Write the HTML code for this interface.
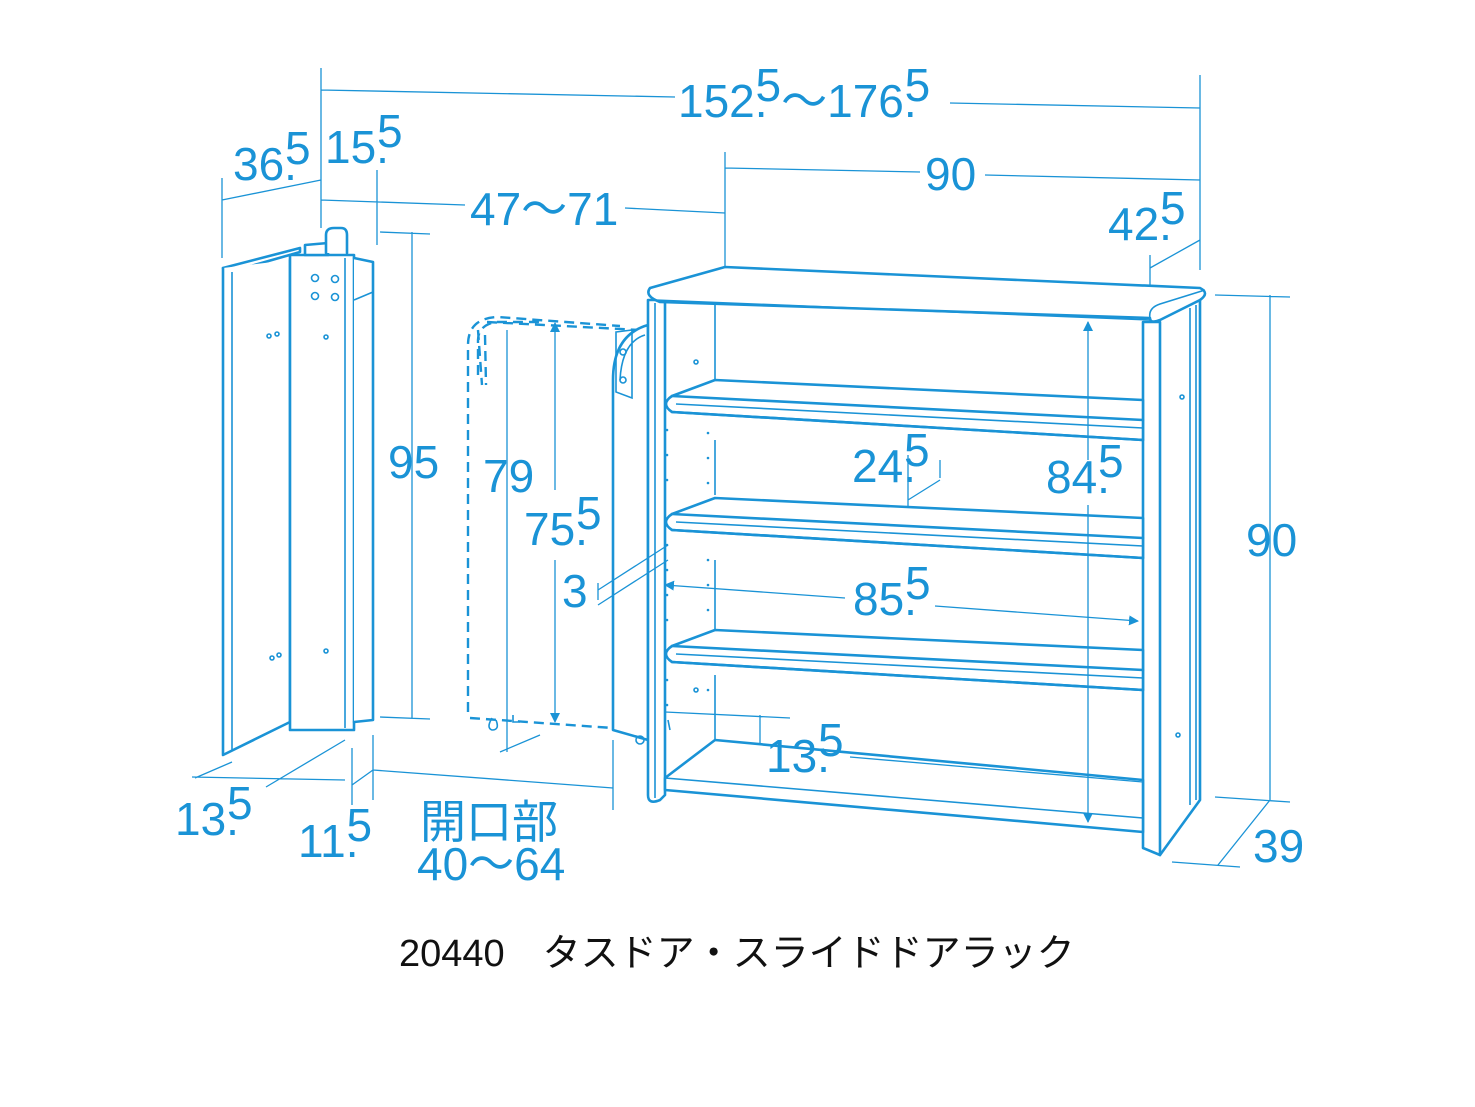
<!DOCTYPE html>
<html><head><meta charset="utf-8"><style>
html,body{margin:0;padding:0;background:#fff;width:1475px;height:1107px;overflow:hidden}
svg{display:block}
.d{stroke:#1a93d6;stroke-width:1.3;fill:none}
.s{stroke:#1a93d6;stroke-width:2.6;fill:#fff;stroke-linejoin:round;stroke-linecap:round}
.t{stroke:#1a93d6;stroke-width:1.6;fill:none}
.dash{stroke:#1a93d6;stroke-width:2.4;fill:none;stroke-dasharray:10 6}
text.n{font-family:"Liberation Sans","Noto Sans CJK JP",sans-serif;font-size:46px;fill:#1a93d6}
</style></head><body>
<svg width="1475" height="1107" viewBox="0 0 1475 1107">
<defs><marker id="a" markerWidth="10" markerHeight="10" refX="9" refY="5" orient="auto" markerUnits="userSpaceOnUse"><path d="M0,0 L10,5 L0,10 z" fill="#1a93d6"/></marker>
<g id="sh">
<path class="s" d="M715,380L1143,400V440L672,412Q660,404 672,396L715,380Z"/>
<path class="s" d="M672,396L1143,420 M672,412L1143,440"/>
<path class="t" d="M676,404L1143,428"/>
</g></defs>
<!-- dimension lines -->
<path class="d" d="M321,68V228 M1200,75V270 M321,90L675,97 M950,103L1200,108 M725,152V270 M725,168L920,172 M985,175L1200,180 M321,200L465,205 M625,208L725,213 M377,170V245 M222,178V258 M222,200L321,180 M1150,255V320 M1150,268L1200,240 M380,232L430,234 M380,717L430,719 M412,232V718 M1215,295L1290,297 M1215,797L1290,802 M1270,295V800 M1218,865L1270,800 M1172,862L1240,867 M195,778L232,762 M192,777L345,780 M266,787L345,740 M352,748V805 M373,735V800 M352,785L373,770 M373,770L613,788 M613,740V810 M500,752L540,735 M507,330V752 M908,455V525 M908,500L940,480 M940,460V478 M665,712L790,718 M760,715V790"/>
<!-- left unit -->
<path class="s" d="M223,268L300,248L300,252L230,272Z"/>
<path class="s" d="M223,268L223,755L290,722L290,260"/>
<path class="t" d="M232,272V750"/>
<rect class="s" x="290" y="255" width="64" height="475"/>
<path class="t" d="M345,258V728"/>
<path class="s" d="M354,258L373,262V720L354,722"/>
<path class="t" d="M354,300L373,292"/>
<path class="s" d="M305,255V245L328,243V255Z"/>
<path class="s" d="M326,253V235Q326,228 334,228H341Q347,228 347,235V253"/>
<g class="t"><circle cx="315" cy="278" r="3.5"/><circle cx="335" cy="279" r="3.5"/><circle cx="315" cy="296" r="3.5"/><circle cx="335" cy="297" r="3.5"/><circle cx="326" cy="337" r="2"/><circle cx="326" cy="651" r="2"/><circle cx="269" cy="336" r="2"/><circle cx="277" cy="334" r="2"/><circle cx="272" cy="658" r="2"/><circle cx="279" cy="655" r="2"/></g>
<!-- dashed door -->
<path class="dash" d="M468,712V345Q468,318 498,317L620,326 M478,375V340Q478,326 495,322L540,322 M478,330L482,385 M485,335L486,385 M470,718L613,728 M487,322L640,330"/>
<path class="t" d="M492,718Q486,728 492,730Q500,730 496,720 M513,715V722L520,722"/>
<!-- solid door -->
<path class="s" d="M613,380Q613,335 648,325V740L613,730Z"/>
<path class="t" d="M620,380Q622,342 645,335 M616,332L632,330V398L616,392Z"/>
<g class="t"><circle cx="623" cy="352" r="3"/><circle cx="623" cy="380" r="3"/><circle cx="640" cy="740" r="4"/></g>
<!-- shelf body -->
<path class="s" d="M1155,322L1200,300V800L1160,855"/>
<path class="t" d="M1190,308V805 M1196,305V800"/>
<path class="s" d="M648,300V795Q648,805 660,800L665,795V300Z"/>
<path class="t" d="M655,303V798"/>
<path class="s" d="M1143,322V848L1160,855V322Z"/>
<path class="t" d="M715,305V380 M715,440V495 M715,560V630 M715,675V740 M668,720L670,730"/>
<!-- top board -->
<path class="s" d="M650,288L725,267L1200,288Q1210,293 1200,300L1160,320Q1150,324 1150,318L660,302Q644,296 650,288Z"/>
<path class="t" d="M655,300L1150,320 M1150,318Q1148,308 1160,304L1205,290"/>
<!-- shelves -->
<use href="#sh"/>
<use href="#sh" y="118"/>
<use href="#sh" y="250"/>
<path class="s" d="M715,740L1143,780V832L665,790V778Z"/>
<path class="t" d="M665,778L1143,818 M665,778L715,740"/>
<g class="t"><circle cx="696" cy="362" r="2"/><circle cx="696" cy="690" r="2"/><circle cx="1182" cy="397" r="2"/><circle cx="1178" cy="735" r="2"/></g>
<g fill="#1a93d6"><circle cx="667" cy="430" r="1.3"/><circle cx="667" cy="455" r="1.3"/><circle cx="667" cy="480" r="1.3"/><circle cx="667" cy="545" r="1.3"/><circle cx="667" cy="570" r="1.3"/><circle cx="667" cy="595" r="1.3"/><circle cx="667" cy="620" r="1.3"/><circle cx="667" cy="680" r="1.3"/><circle cx="667" cy="705" r="1.3"/><circle cx="708" cy="433" r="1.3"/><circle cx="708" cy="458" r="1.3"/><circle cx="708" cy="483" r="1.3"/><circle cx="708" cy="560" r="1.3"/><circle cx="708" cy="585" r="1.3"/><circle cx="708" cy="610" r="1.3"/><circle cx="708" cy="690" r="1.3"/></g>
<!-- arrows -->
<path class="d" d="M1088,460V322" marker-end="url(#a)"/>
<path class="d" d="M1088,505V822" marker-end="url(#a)"/>
<path class="d" d="M845,598L665,585" marker-end="url(#a)"/>
<path class="d" d="M935,606L1138,621" marker-end="url(#a)"/>
<path class="d" d="M555,490V323" marker-end="url(#a)"/>
<path class="d" d="M555,560V722" marker-end="url(#a)"/>
<path class="d" d="M850,757L1143,782 M598,590L668,545 M598,605L668,560 M598,583V600"/>
<!-- labels -->
<g>
<text class="n" x="678" y="117">152.<tspan dx="-12" dy="-16">5</tspan><tspan dy="16">～176.</tspan><tspan dx="-12" dy="-16">5</tspan></text>
<text class="n" x="233" y="180">36.<tspan dx="-12" dy="-16">5</tspan></text>
<text class="n" x="325" y="163">15.<tspan dx="-12" dy="-16">5</tspan></text>
<text class="n" x="470" y="225">47～71</text>
<text class="n" x="925" y="190">90</text>
<text class="n" x="1108" y="240">42.<tspan dx="-12" dy="-16">5</tspan></text>
<text class="n" x="388" y="478">95</text>
<text class="n" x="483" y="492">79</text>
<text class="n" x="524" y="545">75.<tspan dx="-12" dy="-16">5</tspan></text>
<text class="n" x="562" y="607">3</text>
<text class="n" x="852" y="482">24.<tspan dx="-12" dy="-16">5</tspan></text>
<text class="n" x="1046" y="493">84.<tspan dx="-12" dy="-16">5</tspan></text>
<text class="n" x="853" y="615">85.<tspan dx="-12" dy="-16">5</tspan></text>
<text class="n" x="766" y="772">13.<tspan dx="-12" dy="-16">5</tspan></text>
<text class="n" x="1246" y="556">90</text>
<text class="n" x="1253" y="862">39</text>
<text class="n" x="175" y="835">13.<tspan dx="-12" dy="-16">5</tspan></text>
<text class="n" x="298" y="857">11.<tspan dx="-12" dy="-16">5</tspan></text>
<text class="n" x="420" y="838">開口部</text>
<text class="n" x="417" y="880">40～64</text>
<text x="399" y="966" style="font-family:'Liberation Sans','Noto Sans CJK JP',sans-serif;font-size:38px;fill:#111">20440　タスドア・スライドドアラック</text>
</g>
</svg>
</body></html>
